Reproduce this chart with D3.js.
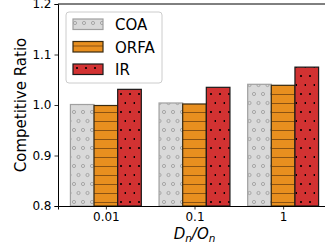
<!DOCTYPE html>
<html>
<head>
<meta charset="utf-8">
<script src="https://d3js.org/d3.v7.min.js"></script>
<style>
  body { margin: 0; background: #fff; }
  text { font-family: "DejaVu Sans", sans-serif; }
</style>
</head>
<body>
<div id="chart"></div>
<script>
var categories = ["0.01", "0.1", "1"];
var seriesNames = ["COA", "ORFA", "IR"];
var coaValues = [1.001, 1.004, 1.041];
var orfaValues = [0.999, 1.002, 1.039];
var irValues = [1.031, 1.035, 1.075];
var yTicks = [0.8, 0.9, 1.0, 1.1, 1.2];

var series = [
  { name: "COA", values: coaValues, fill: "#d9d9d9", stroke: "#a0a0a0", pat: "pat-coa" },
  { name: "ORFA", values: orfaValues, fill: "#e88f1f", stroke: "#3a2a10", pat: "pat-orfa" },
  { name: "IR", values: irValues, fill: "#d23232", stroke: "#1a1a1a", pat: "pat-ir" }
];

var width = 325, height = 249;
var margin = { left: 58, top: 4, right: -6, bottom: 43 };

var svg = d3.select("#chart").append("svg")
  .attr("width", width)
  .attr("height", height);

// hatch patterns
var defs = svg.append("defs");
var p1 = defs.append("pattern").attr("id", "pat-coa").attr("patternUnits", "userSpaceOnUse")
  .attr("width", 9).attr("height", 18);
p1.append("rect").attr("width", 9).attr("height", 18).attr("fill", "#d9d9d9");
p1.append("circle").attr("cx", 2).attr("cy", 4).attr("r", 1.6).attr("fill", "none").attr("stroke", "#999").attr("stroke-width", 0.8);
p1.append("circle").attr("cx", 6.5).attr("cy", 13).attr("r", 1.6).attr("fill", "none").attr("stroke", "#999").attr("stroke-width", 0.8);

var p2 = defs.append("pattern").attr("id", "pat-orfa").attr("patternUnits", "userSpaceOnUse")
  .attr("width", 9).attr("height", 9);
p2.append("rect").attr("width", 9).attr("height", 9).attr("fill", "#e88f1f");
p2.append("line").attr("x1", 0).attr("x2", 9).attr("y1", 4.5).attr("y2", 4.5)
  .attr("stroke", "#8a5212").attr("stroke-width", 1);

var p3 = defs.append("pattern").attr("id", "pat-ir").attr("patternUnits", "userSpaceOnUse")
  .attr("width", 9).attr("height", 18);
p3.append("rect").attr("width", 9).attr("height", 18).attr("fill", "#d23232");
p3.append("circle").attr("cx", 4).attr("cy", 4).attr("r", 1.1).attr("fill", "#000");
p3.append("circle").attr("cx", 8.5).attr("cy", 13).attr("r", 1.1).attr("fill", "#000");

var x = d3.scaleLinear().domain([-0.54, 2.54]).range([margin.left, width - margin.right]);
var y = d3.scaleLinear().domain([0.8, 1.2]).range([height - margin.bottom, margin.top]);
var barW = 0.8 / 3;

var g = svg.append("g");

series.forEach(function (s, si) {
  g.selectAll(".bar-" + si)
    .data(s.values)
    .enter()
    .append("rect")
    .attr("x", function (d, i) { return x(i - 0.4 + si * barW); })
    .attr("width", function () { return x(barW) - x(0); })
    .attr("y", function (d) { return y(d); })
    .attr("height", function (d) { return y(0.8) - y(d); })
    .attr("fill", "url(#" + s.pat + ")")
    .attr("stroke", s.stroke)
    .attr("stroke-width", 1.2);
});

// axes
var yAxis = d3.axisLeft(y).tickValues(yTicks).tickFormat(d3.format(".1f")).tickSizeOuter(0).tickSize(3.5).tickPadding(3);
var gy = svg.append("g").attr("transform", "translate(" + margin.left + ",0)").call(yAxis);
var xAxis = d3.axisBottom(x).tickValues([0, 1, 2]).tickFormat(function (d) { return categories[d]; })
  .tickSizeOuter(0).tickSize(3.5).tickPadding(3);
var gx = svg.append("g").attr("transform", "translate(0," + (height - margin.bottom) + ")").call(xAxis);
[gx, gy].forEach(function (a) {
  a.selectAll("text").attr("font-size", 12).attr("fill", "#000").style("font-family", "DejaVu Sans");
  a.selectAll("line").attr("stroke", "#000").attr("stroke-width", 0.8);
  a.select(".domain").attr("stroke", "#000").attr("stroke-width", 1);
});
// top spine
svg.append("line").attr("x1", margin.left).attr("x2", width).attr("y1", margin.top).attr("y2", margin.top)
  .attr("stroke", "#000").attr("stroke-width", 1);

// labels
svg.append("text")
  .attr("transform", "translate(26," + y(1.0) + ") rotate(-90)")
  .attr("text-anchor", "middle").attr("font-size", 15).text("Competitive Ratio");

var xl = svg.append("text").attr("x", x(1)).attr("y", 239).attr("text-anchor", "middle")
  .attr("font-size", 15).attr("font-style", "italic");
xl.append("tspan").text("D");
xl.append("tspan").attr("font-size", 10.5).attr("dy", 3).text("n");
xl.append("tspan").attr("dy", -3).text("/O");
xl.append("tspan").attr("font-size", 10.5).attr("dy", 3).text("n");

// legend
var lg = svg.append("g").attr("transform", "translate(66,12)");
lg.append("rect").attr("width", 96).attr("height", 71).attr("rx", 3)
  .attr("fill", "#fff").attr("fill-opacity", 0.8).attr("stroke", "#ccc").attr("stroke-width", 1);
series.forEach(function (s, i) {
  var row = lg.append("g").attr("transform", "translate(7," + (7 + i * 22.5) + ")");
  row.append("rect").attr("width", 30).attr("height", 10.5)
    .attr("fill", "url(#" + s.pat + ")").attr("stroke", s.stroke).attr("stroke-width", 1.2);
  row.append("text").attr("x", 42).attr("y", 11).attr("font-size", 15).text(s.name);
});
</script>
</body>
</html>
